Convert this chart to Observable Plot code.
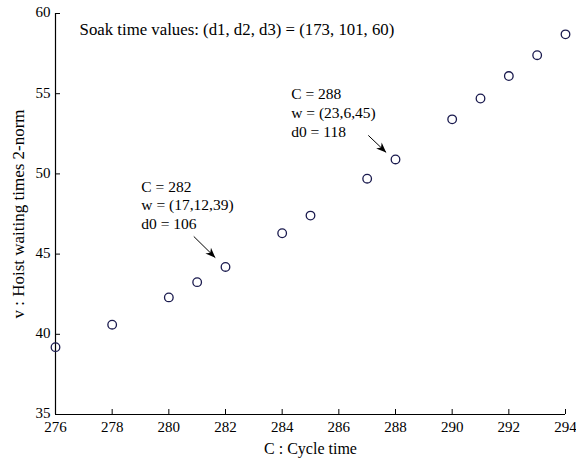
<!DOCTYPE html>
<html>
<head>
<meta charset="utf-8">
<script src="https://cdn.jsdelivr.net/npm/d3@7"></script>
<script src="https://cdn.jsdelivr.net/npm/@observablehq/plot@0.6"></script>
<style>
  html, body { margin: 0; padding: 0; background: #fff; }
</style>
</head>
<body>
<div id="chart"></div>
<script>
// Cycle time C and hoist waiting times 2-norm v
const cycleTime = [276, 278, 280, 281, 282, 284, 285, 287, 288, 290, 291, 292, 293, 294];
const waitNorm  = [39.2, 40.6, 42.3, 43.25, 44.2, 46.3, 47.4, 49.7, 50.9, 53.4, 54.7, 56.1, 57.4, 58.7];

const xTicks = [276, 278, 280, 282, 284, 286, 288, 290, 292, 294];
const yTicks = [35, 40, 45, 50, 55, 60];

const titleText = "Soak time values: (d1, d2, d3) = (173, 101, 60)";
const noteTexts = ["C = 282\nw = (17,12,39)\nd0 = 106", "C = 288\nw = (23,6,45)\nd0 = 118"];
const noteX = [279.03, 284.32];
const noteY = [48.10, 53.87];
const arrowX1 = [280.88, 287.04];
const arrowY1 = [46.10, 52.40];
const arrowX2 = [281.64, 287.67];
const arrowY2 = [44.78, 51.34];

const points = cycleTime.map((c, i) => ({c, v: waitNorm[i]}));
const notes = noteTexts.map((t, i) => ({t, x: noteX[i], y: noteY[i]}));
const arrows = arrowX1.map((x1, i) => ({x1, y1: arrowY1[i], x2: arrowX2[i], y2: arrowY2[i]}));

function headMarker(color, context) {
  const doc = context && context.document ? context.document : document;
  const ns = "http://www.w3.org/2000/svg";
  const m = doc.createElementNS(ns, "marker");
  m.setAttribute("viewBox", "-10 -4 10 8");
  m.setAttribute("markerWidth", "10");
  m.setAttribute("markerHeight", "8");
  m.setAttribute("markerUnits", "userSpaceOnUse");
  m.setAttribute("orient", "auto");
  m.setAttribute("overflow", "visible");
  const p = doc.createElementNS(ns, "path");
  p.setAttribute("d", "M-10,-4L0,0L-10,4L-7,0Z");
  p.setAttribute("fill", "#000");
  p.setAttribute("stroke", "none");
  m.appendChild(p);
  return m;
}

const W = 576, H = 459, mL = 55, mR = 11, mT = 13, mB = 45;
const fw = W - mL - mR, fh = H - mT - mB;

const chart = Plot.plot({
  width: W, height: H,
  marginLeft: mL, marginRight: mR, marginTop: mT, marginBottom: mB,
  style: {fontFamily: "'Liberation Serif', 'Times New Roman', serif", fontSize: "15px", background: "#fff", color: "#000"},
  x: {domain: [276, 294]},
  y: {domain: [35, 60]},
  marks: [
    Plot.ruleX([276], {stroke: "#000", strokeWidth: 1.2}),
    Plot.ruleY([35], {stroke: "#000", strokeWidth: 1.2}),
    Plot.tickX(xTicks, {x: d => d, insetTop: fh - 5, stroke: "#000"}),
    Plot.tickY(yTicks, {y: d => d, insetRight: fw - 5, stroke: "#000"}),
    Plot.axisX({ticks: xTicks, tickSize: 0, tickPadding: 7, tickFormat: d => String(d), fontSize: 15}),
    Plot.axisY({ticks: yTicks, tickSize: 0, tickPadding: 5, fontSize: 15, dy: -1}),
    Plot.axisX({ticks: [], label: "C : Cycle time", labelAnchor: "center", labelArrow: "none", labelOffset: 39, fontSize: 16}),
    Plot.axisY({ticks: [], label: "v : Hoist waiting times 2-norm", labelAnchor: "center", labelArrow: "none", labelOffset: 44, fontSize: 17}),
    Plot.dot(points, {x: "c", y: "v", r: 4.3, stroke: "#1a1a4e", strokeWidth: 1.3, fill: "none"}),
    Plot.text([titleText], {x: 276.85, y: 58.99, text: d => d, textAnchor: "start", fontSize: 16.8}),
    Plot.text(notes, {x: "x", y: "y", text: "t", textAnchor: "start", lineAnchor: "middle", lineHeight: 1.22, fontSize: 15.5}),
    Plot.link(arrows, {x1: "x1", y1: "y1", x2: "x2", y2: "y2", stroke: "#000", strokeWidth: 1, markerEnd: headMarker})
  ]
});
document.getElementById("chart").appendChild(chart);
</script>
</body>
</html>
